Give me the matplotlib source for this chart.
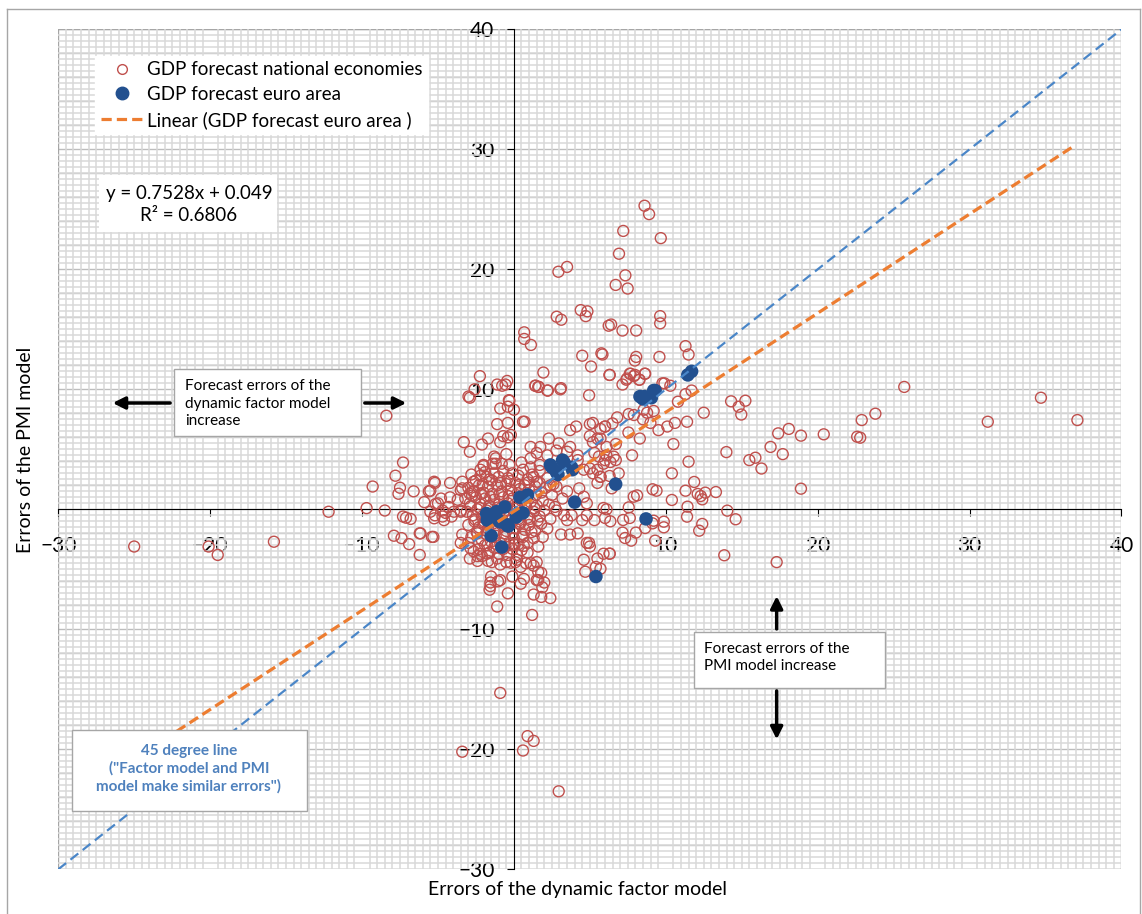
import matplotlib
matplotlib.use("Agg")
import matplotlib.pyplot as plt
from matplotlib.patches import Rectangle
from matplotlib.lines import Line2D
import numpy as np

plt.rcParams['font.family'] = ['Lato', 'DejaVu Sans']

# GDP forecast errors, national economies (x: dynamic factor model, y: PMI model)
nat_x = [
    # far left / left
    -25.0, -20.1, -19.5, -15.8, -12.2, -9.7, -9.3, -8.5, -8.4, -7.3,
    -7.8, -7.5, -7.6, -6.6, -5.6, -5.9, -5.2, -5.0, -5.5, -5.2,
    -7.3, -7.1, -6.8, -7.9, -7.4, -6.2, -5.4, -6.2, -6.15, -6.9,
    # left of centre
    -5.5, -5.15, -4.8, -4.2, -3.7, -3.5, -2.9, -4.5, -4.7, -3.95,
    -3.5, -3.5, -5.25, -4.2, -3.4, -3.4, -2.7, -4.3, -4.7, -4.6,
    -4.1, -5.25, -3.5, -5.3, -3.4, -3.0, -2.65, -2.9, -2.4, -2.1,
    -1.45, -0.9, -1.55, -1.55, -0.9, -2.85, -2.4, -2.2, -1.76, -1.5,
    # below centre
    -1.05, -0.2, -0.1, 0.66, 1.3, 1.3, 1.8, 2.0, 1.87, 1.5,
    0.1, 0.45, 1.1, 1.6, 1.5, 0.9, 1.3, 0.6, -3.4, 2.95,
    -0.9, -1.6, -1.1, 0.45, 1.6, 1.8, 1.2, 2.4, -0.4,
    # right of centre, lower
    3.1, 3.7, 4.2, 4.8, 5.0, 4.7, 5.4, 5.9, 4.6, 4.95,
    5.5, 6.3, 2.8, 3.3, 3.5, 3.8, 4.5, 4.8, 5.3, 6.1,
    # right of centre, upper
    4.3, 4.6, 4.8, 5.5, 5.7, 5.5, 5.9, 2.4, 2.8, 3.2,
    3.5, 1.7, 1.3, 1.7, 1.1, 2.2, 2.8, 3.5, 4.2, 4.2,
    3.7, 4.1, 5.0, 6.0, 5.5, 2.3, 2.95, 1.74, 1.1, 1.5,
    5.3, 6.1, 3.7, 5.2, 5.7, 5.0, 5.2, 5.6, 6.0, 5.0,
    5.2, 4.6,
    # upper left of centre
    -1.1, -0.4, 0.7, -3.3, -2.9, -2.1, -1.7, -0.9, -0.7, -0.2,
    -1.3, -1.4, -0.8, -2.2, -1.8, -2.9, -0.9, -0.3, -0.4, 0.0,
    -0.55, -1.1, 1.4, 1.6, 2.2, 3.1, 4.95, 0.6, -0.4, -0.5,
    -1.2, -2.0, -2.24, -2.59, -0.77, -0.44, -2.99, -0.33,
    # upper
    2.93, 3.5, 7.2, 6.92, 6.7, 7.34, 7.49, 8.6, 8.9, 4.4,
    4.84, 4.73, 2.82, 3.12, 6.24, 6.4, 7.15, 8.05, 0.68, 0.68,
    1.12, 4.5, 5.76, 5.08, 1.94, 6.29, 7.15, 7.4, 7.68, 8.05,
    7.96, 8.64, 8.27, 7.9, 1.43, 1.65, 2.24, 3.06, 9.67, 9.63,
    9.63, 5.83, 11.3, 11.5, 9.58, 9.78, 10.3,
    # right
    6.31, 7.63, 7.97, 8.62, 7.45, 8.25, 9.91, 25.7, 34.7, 14.3,
    15.24, 14.8, 14.97, 12.5, 23.8, 31.2, 37.1, 22.9, 10.8, 11.3,
    11.7, 6.8, 7.56, 7.9, 8.55, 8.77, 9.2, 8.5, 8.99, 6.49,
    6.0, 5.7, 7.54, 8.29, 9.52, 10.1, 10.6, 11.4, 18.1, 17.4,
    18.9, 20.4, 22.6, 22.8, 6.71, 10.5, 16.9, 17.7, 13.99, 15.5,
    15.9, 16.3, 11.5, 7.78, 6.09, 6.57, 6.71, 6.35, 5.7, 6.3,
    6.9, 10.4, 11.87, 18.9, 9.13, 9.39, 6.44, 7.89, 8.11, 11.3,
    12.1, 12.3, 12.6, 13.3, 10.4, 12.4, 7.56, 5.9, 11.43, 14.05,
    14.6, 11.4, 7.19, 7.63, 6.0, 6.35, 9.13, 9.2, 9.87, 9.87,
    8.64, 12.4, 12.2, 7.15, 8.03, 7.32, 7.72, 9.3, 6.31, 13.85,
    17.3, 5.7,
    # dense centre
    -2.8, -2.5, -2.2, -1.9, -1.6, -1.3, -1.0, -0.7, -0.4, -0.1, 0.3, 0.6, 0.9, 1.2, 1.5,
    -3.0, -2.6, -2.3, -2.0, -1.7, -1.4, -1.1, -0.8, -0.5, -0.2, 0.1, 0.4, 0.7, 1.0, 1.4, 1.8, 2.1,
    -3.2, -2.9, -2.5, -2.2, -1.9, -1.6, -1.3, -1.0, -0.7, -0.4, -0.1, 0.2, 0.5, 0.8, 1.1, 1.5, 1.9, 2.3,
    -3.1, -2.7, -2.4, -2.1, -1.8, -1.5, -1.2, -0.9, -0.6, -0.3, 0.0, 0.3, 0.6, 0.9, 1.3, 1.7, 2.0,
    -3.0, -2.6, -2.3, -2.0, -1.7, -1.4, -1.1, -0.8, -0.5, -0.2, 0.1, 0.4, 0.7, 1.0, 1.4, 1.8,
    -2.8, -2.4, -2.1, -1.8, -1.5, -1.2, -0.9, -0.6, -0.3, 0.0, 0.3, 0.6, 0.9, 1.3,
    -2.3, -1.9, -1.6, -1.3, -1.0, -0.7, -0.4, -0.1, 0.2, 0.5, 0.9,
    -1.7, -1.1, -0.5, 0.2, 0.8,
    -2.0, -1.2, -0.3, 0.5, 1.1, 1.7, 2.2, 2.6, 2.5, 2.7, 2.4, 2.2, 1.9, 1.6,
    # dense centre, second layer
    -2.65, -2.05, -1.45, -0.85, -0.25, 0.35, 0.95,
    -2.75, -2.15, -1.55, -0.95, -0.35, 0.25, 0.85, 1.45,
    -2.85, -2.25, -1.65, -1.05, -0.45, 0.15, 0.75, 1.35,
    -2.55, -1.95, -1.35, -0.75, -0.15, 0.45, 1.05, 1.55,
    -2.45, -1.85, -1.25, -0.65, -0.05, 0.55, 1.15,
    -1.75, -1.15, -0.55, 0.05, 0.65,
]
nat_y = [
    -3.1, -3.1, -3.8, -2.7, -0.2, 0.1, 1.9, -0.1, 7.8, 3.9,
    2.8, 1.8, 1.3, 1.5, 1.5, 0.6, 2.2, 0.5, -0.2, -0.5,
    -0.6, -0.7, -0.8, -2.2, -2.4, -2.0, -2.3, -3.8, -2.0, -2.9,
    1.55, 0.45, 0.9, 1.0, 0.8, 1.6, 1.3, -0.3, -0.6, -0.2,
    -0.2, -2.8, 2.3, 2.2, 2.3, 1.75, 1.5, 0.2, -0.1, -0.9,
    -0.6, -0.75, -0.1, -2.3, -2.1, -2.8, -3.5, -4.1, -3.9, -3.9,
    -4.4, -4.6, -6.1, -6.4, -5.9, -3.25, -4.3, -3.7, -3.7, -5.6,
    -6.0, -4.45, -5.6, -5.8, -4.7, -7.1, -5.3, -6.1, -6.5, -4.4,
    -4.4, -4.8, -4.5, -5.2, -5.9, -18.9, -19.3, -20.1, -20.2, -23.5,
    -15.3, -6.7, -8.1, -6.2, -5.9, -7.3, -8.8, -7.4, -7.0,
    -2.1, -2.1, -2.0, -2.8, -3.1, -5.2, -4.8, -3.7, -4.2, -2.8,
    -4.1, -3.7, -0.1, -0.5, -0.9, -0.5, -0.9, -0.5, -0.9, 0.0,
    1.75, 1.05, 0.5, 2.2, 2.7, 3.3, 3.8, 2.0, 1.9, 0.9,
    1.5, 2.2, 2.7, 3.7, 4.25, 4.5, 4.9, 4.8, 4.5, 4.1,
    5.2, 6.9, 7.1, 6.9, 5.9, 5.9, 5.5, 5.2, 5.2, 4.7,
    4.7, 5.2, 6.6, 7.2, 6.7, 6.1, 5.6, 4.4, 4.1, 3.4,
    3.0, 3.3,
    7.1, 7.2, 7.3, 5.6, 4.8, 5.4, 5.9, 5.6, 6.1, 6.2,
    4.4, 3.8, 3.8, 3.3, 2.7, 9.3, 8.4, 9.05, 8.55, 8.3,
    10.4, 10.4, 10.3, 10.2, 9.9, 10.1, 9.5, 7.3, 6.0, 4.6,
    4.25, 3.7, 11.1, 10.0, 10.3, 10.7, 9.4, 9.1,
    19.8, 20.2, 23.2, 21.3, 18.7, 19.5, 18.4, 25.3, 24.6, 16.6,
    16.5, 16.1, 16.05, 15.8, 15.3, 15.4, 14.9, 14.9, 14.75, 14.2,
    13.7, 12.8, 13.0, 11.9, 11.4, 11.2, 10.4, 10.8, 11.3, 12.7,
    12.4, 11.3, 10.8, 11.1, 10.3, 10.2, 9.9, 10.0, 22.6, 16.1,
    15.5, 12.9, 13.6, 12.9, 12.7, 10.5, 10.3,
    11.2, 11.3, 11.2, 11.3, 10.9, 10.8, 10.5, 10.2, 9.3, 9.0,
    9.05, 8.55, 7.9, 8.05, 7.97, 7.3, 7.44, 7.44, 8.97, 9.6,
    9.9, 7.66, 7.94, 7.86, 8.3, 8.05, 8.2, 7.5, 7.2, 7.16,
    6.9, 5.9, 6.4, 5.9, 6.6, 6.9, 7.2, 7.3, 6.7, 6.33,
    6.14, 6.25, 6.05, 5.97, 5.44, 5.44, 5.2, 4.6, 4.77, 4.1,
    4.3, 3.4, 3.97, 4.5, 4.5, 4.39, 4.11, 3.94, 2.72, 2.78,
    3.0, 3.0, 2.28, 1.72, 1.67, 1.55, 1.75, 1.05, 1.16, 1.55,
    1.28, 1.11, 1.39, 1.44, 0.78, 0.83, 0.16, 0.11, 0.22, -0.11,
    -0.83, -0.61, -0.89, -0.72, -0.72, -1.0, -1.17, -0.95, -1.03, -1.5,
    -1.56, -1.22, -1.78, -1.94, -1.94, -2.39, -2.61, -2.61, -3.69, -3.83,
    -4.4, -4.95,
    2.9, 2.4, 2.8, 3.1, 2.5, 3.0, 2.7, 3.2, 2.6, 3.0, 2.8, 3.3, 2.5, 2.9, 2.3,
    1.8, 1.5, 2.0, 1.4, 1.9, 1.3, 2.0, 1.5, 2.1, 1.6, 2.2, 1.7, 2.0, 1.6, 1.9, 1.4, 1.8,
    0.9, 0.5, 1.0, 0.4, 0.9, 0.3, 0.8, 0.4, 1.0, 0.5, 0.9, 0.3, 0.7, 0.2, 0.6, 0.3, 0.7, 0.4,
    -0.2, -0.5, 0.0, -0.6, -0.1, -0.6, -0.2, -0.7, -0.1, -0.6, -0.2, -0.8, -0.3, -0.7, -0.2, -0.6, -0.1,
    -1.3, -1.0, -1.5, -1.1, -1.6, -1.2, -1.7, -1.3, -1.8, -1.2, -1.6, -1.2, -1.7, -1.3, -1.8, -1.2,
    -2.3, -2.0, -2.6, -2.1, -2.7, -2.2, -2.8, -2.3, -2.9, -2.4, -2.9, -2.3, -2.8, -2.4,
    -3.3, -3.0, -3.6, -3.2, -3.7, -3.3, -3.8, -3.3, -3.8, -3.4, -3.6,
    -4.3, -4.1, -4.4, -4.2, -4.5,
    3.6, 3.8, 3.7, 3.9, 3.5, 3.2, 2.6, 2.1, 1.2, 0.2, -0.8, -1.6, -2.3, -3.1,
    2.3, 2.1, 2.4, 2.2, 2.35, 2.05, 2.25,
    1.15, 1.3, 1.05, 1.25, 1.1, 1.35, 1.0, 1.2,
    0.25, 0.1, 0.3, 0.15, 0.2, 0.05, 0.3, 0.1,
    -0.85, -1.0, -0.8, -0.95, -0.9, -1.05, -0.8, -0.95,
    -1.9, -2.05, -1.85, -2.0, -1.95, -2.1, -1.9,
    -3.0, -2.9, -3.1, -2.95, -3.05,
]

# GDP forecast errors, euro area
ea_x = [9.3, 8.6, 9.05, 8.3, 8.5, 9.2, 11.45, 11.7,
        2.5, 3.3, 3.85, 2.9, 2.4, 3.2, 2.8, 3.8,
        6.7, 4.0, 8.7, 5.4,
        0.4, 0.9, 0.6, 0.15, -0.6, -1.15, -1.75, -1.0, -0.45, -1.5, -0.8, -1.8, -0.9, -0.37]
ea_y = [9.9, 9.4, 9.3, 9.4, 9.2, 9.9, 11.2, 11.5,
        3.5, 3.9, 3.3, 2.9, 3.7, 4.1, 3.1, 3.5,
        2.1, 0.6, -0.8, -5.6,
        1.0, 1.2, -0.3, -0.65, 0.2, -0.2, -0.9, -0.95, -1.3, -2.2, -3.15, -0.35, -1.05, -1.4]

# 45 degree line and linear trend (as drawn in the chart)
diag_x = [-30, 40]
diag_y = [-30, 40]
trend_x = [-22.2, 36.9]
trend_y = [-18.5, 30.3]

fig = plt.figure(figsize=(11.42, 9.14), dpi=100)
ax = fig.add_axes([0.051, 0.0489, 0.931, 0.919])
ax.set_xlim(-30, 40)
ax.set_ylim(-30, 40)

# busy excel-like grid
ax.set_xticks(np.arange(-30, 40.01, 0.5), minor=True)
ax.set_yticks(np.arange(-30, 40.01, 0.5), minor=True)
ax.grid(which='minor', color='#d9d9d9', linewidth=1.1, zorder=0)
for gy in np.arange(-30, 40.01, 2):
    ax.axhline(gy, color='#bdbdbd', linewidth=1.0, zorder=0.5)
ax.add_patch(Rectangle((0, 0), 1, 1, transform=ax.transAxes, fill=False,
                       edgecolor='#a6a6a6', linewidth=1.0, zorder=1))

ax.scatter(nat_x, nat_y, s=62, facecolors='none', edgecolors='#c0504d',
           linewidths=1.0, zorder=3)
ax.scatter(ea_x, ea_y, s=95, color='#22508f', edgecolors='none', zorder=4)
ax.plot(diag_x, diag_y, color='#4a86c8', linewidth=1.6, dashes=(4.5, 2.5), zorder=5)
ax.plot(trend_x, trend_y, color='#ed7d31', linewidth=2.3, dashes=(3.2, 1.6), zorder=5)

# axes through the origin
for s in ['top', 'right']:
    ax.spines[s].set_visible(False)
ax.spines['left'].set_position(('data', 0))
ax.spines['bottom'].set_position(('data', 0))
ax.spines['left'].set_zorder(2)
ax.spines['bottom'].set_zorder(2)
ax.set_xticks(np.arange(-30, 41, 10))
ax.set_yticks(np.arange(-30, 41, 10))
ax.tick_params(axis='x', which='major', direction='out', length=5, pad=14, labelsize=15)
ax.tick_params(axis='y', which='major', direction='out', length=5, pad=9, labelsize=15)
ax.tick_params(which='minor', length=0)

fig.text(0.506, 0.027, 'Errors of the dynamic factor model', ha='center', va='center', fontsize=14)
fig.text(0.022, 0.508, 'Errors of the PMI model', ha='center', va='center', fontsize=14, rotation=90)

# legend
handles = [
    Line2D([], [], linestyle='none', marker='o', markersize=7, markerfacecolor='none',
           markeredgecolor='#c0504d', markeredgewidth=1.0),
    Line2D([], [], linestyle='none', marker='o', markersize=9, color='#22508f'),
    Line2D([], [], color='#ed7d31', linewidth=2.3, dashes=(3.2, 1.6)),
]
labels = ['GDP forecast national economies', 'GDP forecast euro area',
          'Linear (GDP forecast euro area )']
leg = ax.legend(handles, labels, loc='upper left', bbox_to_anchor=(-28.2, 38.6),
                bbox_transform=ax.transData, fontsize=13.5, frameon=True, fancybox=False,
                framealpha=1, edgecolor='white', handlelength=2.3, handletextpad=0.15,
                labelspacing=0.42, borderpad=0.3)
leg.set_zorder(10)

# regression equation
ax.add_patch(Rectangle((-27.3, 23.1), 11.7, 4.8, facecolor='white', edgecolor='none', zorder=8))
ax.text(-21.4, 25.4, 'y = 0.7528x + 0.049\nR² = 0.6806', ha='center', va='center',
        fontsize=13.5, linespacing=1.3, zorder=9)

# annotation: factor model errors
ax.add_patch(Rectangle((-22.37, 6.11), 12.33, 5.58, facecolor='white', edgecolor='#a6a6a6',
                       linewidth=1.0, zorder=8))
ax.text(-21.65, 8.8, 'Forecast errors of the\ndynamic factor model\nincrease', ha='left',
        va='center', fontsize=11, linespacing=1.3, zorder=9)
arrow = dict(arrowstyle='-|>', color='black', linewidth=2.5, mutation_scale=18)
ax.annotate('', xy=(-26.6, 8.86), xytext=(-22.45, 8.86), arrowprops=arrow, zorder=9)
ax.annotate('', xy=(-6.9, 8.86), xytext=(-10.0, 8.86), arrowprops=arrow, zorder=9)

# annotation: PMI model errors
ax.add_patch(Rectangle((11.84, -14.9), 12.6, 4.7, facecolor='white', edgecolor='#a6a6a6',
                       linewidth=1.0, zorder=8))
ax.text(12.5, -12.35, 'Forecast errors of the\nPMI model increase', ha='left', va='center',
        fontsize=11, linespacing=1.3, zorder=9)
ax.annotate('', xy=(17.3, -7.0), xytext=(17.3, -10.2), arrowprops=arrow, zorder=9)
ax.annotate('', xy=(17.3, -19.4), xytext=(17.3, -14.9), arrowprops=arrow, zorder=9)

# annotation: 45 degree line
ax.add_patch(Rectangle((-29.1, -25.1), 15.5, 6.7, facecolor='white', edgecolor='#a6a6a6',
                       linewidth=1.0, zorder=8))
ax.text(-21.4, -21.6, '45 degree line\n("Factor model and PMI\nmodel make similar errors")',
        ha='center', va='center', fontsize=11, fontweight='bold', color='#4f81bd',
        linespacing=1.3, zorder=9)

# chart area border
fig.add_artist(Line2D([0.006, 0.006], [0, 0.990], color='#a6a6a6', linewidth=1.0))
fig.add_artist(Line2D([0.006, 0.998], [0.990, 0.990], color='#a6a6a6', linewidth=1.0))
fig.add_artist(Line2D([0.998, 0.998], [0, 0.990], color='#a6a6a6', linewidth=1.0))

fig.savefig('out.png', dpi=100)
